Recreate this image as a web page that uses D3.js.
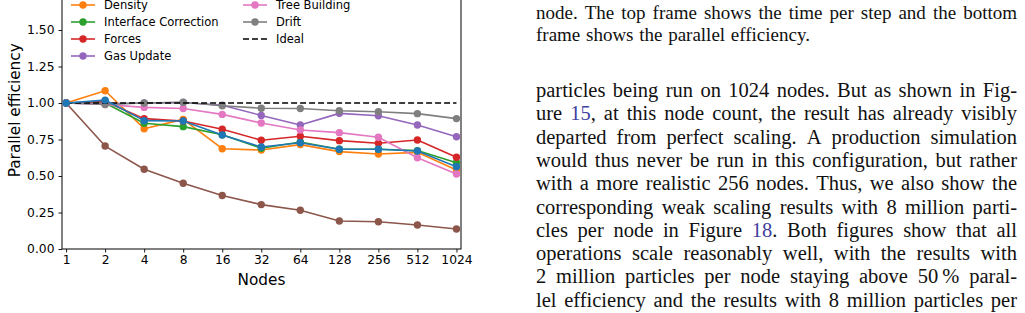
<!DOCTYPE html>
<html>
<head>
<meta charset="utf-8">
<script src="https://cdn.jsdelivr.net/npm/d3@7"></script>
<style>
  html, body { margin: 0; padding: 0; background: #fff; overflow: hidden; }
  svg { display: block; }
</style>
</head>
<body>
<svg id="fig" width="1025" height="313"></svg>
<script>
// ---------- data ----------
const nodes = [1, 2, 4, 8, 16, 32, 64, 128, 256, 512, 1024];
const yTicks = [0, 0.25, 0.5, 0.75, 1.0, 1.25, 1.5];

const total               = [1.000, 1.020, 0.879, 0.877, 0.781, 0.699, 0.728, 0.683, 0.683, 0.671, 0.564];
const density             = [1.000, 1.084, 0.824, 0.888, 0.687, 0.678, 0.715, 0.667, 0.651, 0.662, 0.541];
const interfaceCorrection = [1.000, 1.000, 0.861, 0.838, 0.783, 0.690, 0.733, 0.683, 0.683, 0.674, 0.591];
const forces              = [1.000, 1.010, 0.893, 0.877, 0.820, 0.745, 0.772, 0.742, 0.724, 0.747, 0.628];
const gasUpdate           = [1.000, 0.995, 1.000, 1.003, 0.985, 0.915, 0.849, 0.929, 0.913, 0.849, 0.769];
const gravity             = [1.000, 0.705, 0.546, 0.450, 0.366, 0.304, 0.265, 0.192, 0.187, 0.164, 0.137];
const treeBuilding        = [1.000, 0.990, 0.970, 0.962, 0.922, 0.863, 0.815, 0.797, 0.765, 0.625, 0.514];
const drift               = [1.000, 0.990, 1.000, 1.005, 0.981, 0.964, 0.962, 0.947, 0.940, 0.927, 0.893];
const ideal               = [1, 1, 1, 1, 1, 1, 1, 1, 1, 1, 1];

const seriesNames  = ["Density", "Interface Correction", "Forces", "Gas Update", "Gravity", "Tree Building", "Drift", "Total"];
const seriesValues = [density, interfaceCorrection, forces, gasUpdate, gravity, treeBuilding, drift, total];
const seriesColors = ["#ff7f0e", "#2ca02c", "#d62728", "#9467bd", "#8c564b", "#e377c2", "#7f7f7f", "#1f77b4"];

const legendCol1 = ["Density", "Interface Correction", "Forces", "Gas Update"];
const legendCol2 = ["Tree Building", "Drift", "Ideal"];

const captionLines = [
  "node. The top frame shows the time per step and the bottom",
  "frame shows the parallel efficiency."
];
const bodyLines = [
  "particles being run on 1024 nodes. But as shown in Fig-",
  "ure {15}, at this node count, the result has already visibly",
  "departed from perfect scaling. A production simulation",
  "would thus never be run in this configuration, but rather",
  "with a more realistic 256 nodes. Thus, we also show the",
  "corresponding weak scaling results with 8 million parti-",
  "cles per node in Figure {18}. Both figures show that all",
  "operations scale reasonably well, with the results with",
  "2 million particles per node staying above 50\u2009% paral-",
  "lel efficiency and the results with 8 million particles per"
];

// ---------- chart ----------
const svg = d3.select("#fig");
const font = "DejaVu Sans, sans-serif";

const x = d3.scaleLog().base(2).domain([0.93, 1110]).range([62, 461]);
const y = d3.scaleLinear().domain([0, 1.9]).range([249, 249 - 1.9 * 146]);

const g = svg.append("g");

// axes
const yAxis = d3.axisLeft(y).tickValues(yTicks).tickFormat(d3.format(".2f"))
  .tickSize(3.5).tickPadding(4).tickSizeOuter(0);
const xAxis = d3.axisBottom(x).tickValues(nodes).tickFormat(d3.format("d"))
  .tickSize(3.5).tickPadding(3).tickSizeOuter(0);

const gy = g.append("g").attr("transform", `translate(${x.range()[0]},0)`).call(yAxis);
const gx = g.append("g").attr("transform", `translate(0,${y(0)})`).call(xAxis);
[gx, gy].forEach(a => {
  a.selectAll("text").attr("font-family", font).attr("font-size", 12.3).attr("fill", "#000");
  a.selectAll("line").attr("stroke", "#000").attr("stroke-width", 0.9);
  a.select(".domain").remove();
});

// spines
const [x0, x1] = x.range();
const [yb, yt] = y.range();
g.append("rect").attr("x", x0).attr("y", yt).attr("width", x1 - x0).attr("height", yb - yt)
  .attr("fill", "none").attr("stroke", "#000").attr("stroke-width", 1);

// labels
g.append("text").attr("x", (x0 + x1) / 2).attr("y", 284.5).attr("text-anchor", "middle")
  .attr("font-family", font).attr("font-size", 15.3).text("Nodes");
g.append("text").attr("transform", `translate(20,${(yb + yt) / 2}) rotate(-90)`).attr("text-anchor", "middle")
  .attr("font-family", font).attr("font-size", 15.3).text("Parallel efficiency");

// lines
const line = d3.line().x((d, i) => x(nodes[i])).y(d => y(d));
const plotG = g.append("g");
function drawSeries(vals, color) {
  plotG.append("path").datum(vals).attr("d", line).attr("fill", "none")
    .attr("stroke", color).attr("stroke-width", 1.6).attr("stroke-linejoin", "round");
  plotG.append("g").selectAll("circle").data(vals).join("circle")
    .attr("cx", (d, i) => x(nodes[i])).attr("cy", d => y(d)).attr("r", 3.7).attr("fill", color);
}
for (let k = 0; k < 7; k++) drawSeries(seriesValues[k], seriesColors[k]);
plotG.append("path").datum(ideal).attr("d", line).attr("fill", "none")
  .attr("stroke", "#000").attr("stroke-width", 1.5).attr("stroke-dasharray", "6,3");
drawSeries(seriesValues[7], seriesColors[7]);

// legend
const legG = g.append("g");
function legendItem(name, lx, ly) {
  const isIdeal = name === "Ideal";
  const color = isIdeal ? "#000" : seriesColors[seriesNames.indexOf(name)];
  legG.append("line").attr("x1", lx).attr("x2", lx + 24).attr("y1", ly).attr("y2", ly)
    .attr("stroke", color).attr("stroke-width", 1.6).attr("stroke-dasharray", isIdeal ? "6,3" : null);
  if (!isIdeal) legG.append("circle").attr("cx", lx + 12).attr("cy", ly).attr("r", 3.7).attr("fill", color);
  legG.append("text").attr("x", lx + 33).attr("y", ly).attr("dy", "0.36em")
    .attr("font-family", font).attr("font-size", 11.5).text(name);
}
legendCol1.forEach((n, i) => legendItem(n, 71, 5 + i * 17));
legendCol2.forEach((n, i) => legendItem(n, 243, 5 + i * 17));

// ---------- text column ----------
const serif = "Liberation Serif, Times New Roman, serif";
const colX0 = 536, colX1 = 1017;
function setLine(str, baseline, size, justify) {
  const words = str.split(" ");
  const els = words.map(w => {
    const t = svg.append("text").attr("y", baseline).attr("font-family", serif)
      .attr("font-size", size).attr("fill", "#111");
    const parts = w.split(/(\{[^}]*\})/).filter(p => p.length);
    parts.forEach(p => {
      if (p.startsWith("{")) t.append("tspan").attr("fill", "#3f3f9f").text(p.slice(1, -1));
      else t.append("tspan").text(p);
    });
    return t;
  });
  const widths = els.map(t => t.node().getComputedTextLength());
  const sum = d3.sum(widths);
  const gap = justify && words.length > 1 ? (colX1 - colX0 - sum) / (words.length - 1) : size * 0.3;
  let cx = colX0;
  els.forEach((t, i) => { t.attr("x", cx); cx += widths[i] + gap; });
}
captionLines.forEach((l, i) => setLine(l, 18.5 + i * 22, 19, i < captionLines.length - 1));
bodyLines.forEach((l, i) => setLine(l, 97 + i * 23.3, 20.5, true));
</script>
</body>
</html>
